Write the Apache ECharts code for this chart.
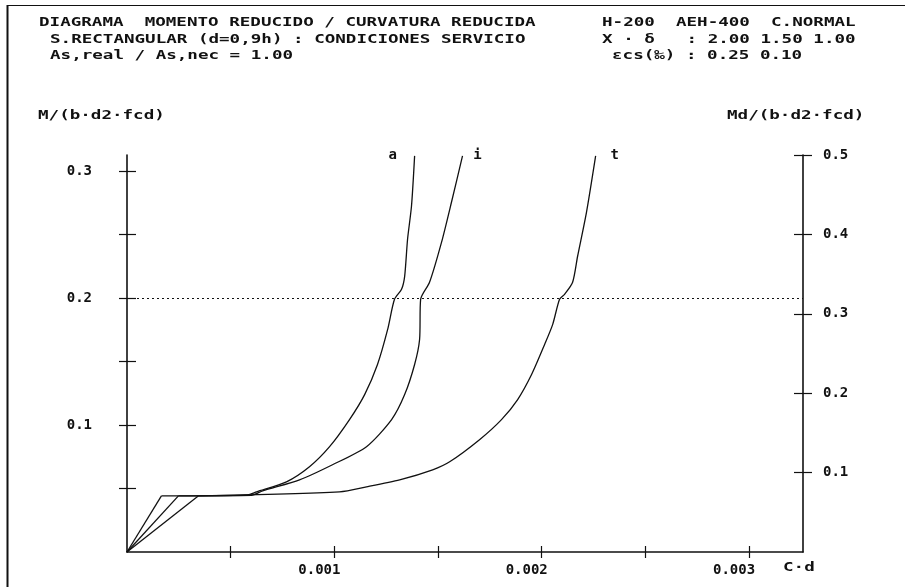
<!DOCTYPE html>
<html>
<head>
<meta charset="utf-8">
<script src="https://cdn.jsdelivr.net/npm/echarts@6/dist/echarts.min.js"></script>
<style>
  html, body { margin: 0; padding: 0; background: #fff; }
  #chart { width: 907px; height: 587px; }
</style>
</head>
<body>
<div id="chart"></div>
<script>
// Reduced curvature C·d (x) against reduced moment M/(b·d2·fcd) (y)
const curveNames = ['a', 'i', 't'];

const curveA_x = [0, 0.000166, 0.000581, 0.000625, 0.000769, 0.000880, 0.000977, 0.001073, 0.001146, 0.001208, 0.001257, 0.001290, 0.001324, 0.001339, 0.001353, 0.001372, 0.001387];
const curveA_y = [0, 0.0442, 0.0450, 0.0474, 0.0552, 0.0671, 0.0829, 0.1042, 0.1239, 0.1476, 0.1752, 0.1989, 0.2068, 0.2170, 0.2462, 0.2723, 0.3118];

const curveI_x = [0, 0.000248, 0.000600, 0.000654, 0.000832, 0.000991, 0.001155, 0.001276, 0.001339, 0.001387, 0.001411, 0.001416, 0.001459, 0.001517, 0.001565, 0.001618];
const curveI_y = [0, 0.0442, 0.0446, 0.0481, 0.0568, 0.0687, 0.0829, 0.1042, 0.1239, 0.1476, 0.1673, 0.1989, 0.2123, 0.2439, 0.2755, 0.3118];

const curveT_x = [0, 0.000345, 0.001025, 0.001155, 0.001315, 0.001474, 0.001556, 0.001700, 0.001806, 0.001884, 0.001951, 0.002014, 0.002053, 0.002086, 0.002110, 0.002149, 0.002173, 0.002216, 0.002260];
const curveT_y = [0, 0.0442, 0.0474, 0.0513, 0.0568, 0.0647, 0.0710, 0.0884, 0.1042, 0.1200, 0.1397, 0.1634, 0.1792, 0.1989, 0.2028, 0.2123, 0.2328, 0.2676, 0.3118];

// Index where each curve leaves its straight initial branch
const plateauStart = [1, 1, 1];

// Service limit line (left scale)
const serviceLevel = 0.2;

// Axis ranges and tick values
const xMax = 0.00326;
const xTicks = [0.0005, 0.001, 0.0015, 0.002, 0.0025, 0.003];
const xLabels = [0.001, 0.002, 0.003];
const mMax = 0.3125;
const mTicks = [0.05, 0.1, 0.15, 0.2, 0.25, 0.3];
const mLabels = [0.1, 0.2, 0.3];
const mdMax = 0.5;
const mdTicks = [0.1, 0.2, 0.3, 0.4, 0.5];
const mdLabels = [0.1, 0.2, 0.3, 0.4, 0.5];

// Header text
const titleLeft = [
  'DIAGRAMA  MOMENTO REDUCIDO / CURVATURA REDUCIDA',
  'S.RECTANGULAR (d=0,9h) : CONDICIONES SERVICIO',
  'As,real / As,nec = 1.00'
];
const titleRight = [
  'H-200  AEH-400  C.NORMAL',
  'X · δ   : 2.00 1.50 1.00',
  'εcs(‰) : 0.25 0.10'
];
const yNameLeft = 'M/(b·d2·fcd)';
const yNameRight = 'Md/(b·d2·fcd)';
const xName = 'C·d';

const FONT_FAMILY = '"DejaVu Sans Mono", "Liberation Mono", monospace';
const INK = '#111';

function pairs(xs, ys) { return xs.map((x, k) => [x, ys[k]]); }

function monoText(str, x, y, size, sx) {
  return {
    type: 'text', x: x, y: y, scaleX: sx, silent: true,
    style: {
      text: str, font: 'bold ' + size + 'px ' + FONT_FAMILY, fill: INK,
      align: 'left', verticalAlign: 'middle',
      textAlign: 'left', textVerticalAlign: 'middle'
    }
  };
}

const axisLineStyle = { color: INK, width: 1.6 };
const tickStyle = { color: INK, width: 1.2 };
const labelFont = { fontFamily: FONT_FAMILY, fontWeight: 'bold', fontSize: 14, color: INK };
const curveLine = { color: INK, width: 1.3 };

function valueAxis(gridIndex, min, max, extra) {
  return Object.assign({
    type: 'value', gridIndex: gridIndex, min: min, max: max,
    splitLine: { show: false }
  }, extra);
}

const chart = echarts.init(document.getElementById('chart'), null, { renderer: 'canvas' });

const labelOffsets = { a: [-22, -1], i: [15, -1], t: [19, -1] };
const curves = [pairs(curveA_x, curveA_y), pairs(curveI_x, curveI_y), pairs(curveT_x, curveT_y)];

const series = [];
curves.forEach((pts, k) => {
  const s = plateauStart[k];
  // straight elastic branch from the origin
  series.push({
    name: curveNames[k] + '-0', type: 'line', xAxisIndex: 0, yAxisIndex: 0,
    data: pts.slice(0, s + 1), showSymbol: false, smooth: false, animation: false,
    lineStyle: curveLine, silent: true
  });
  // cracked branch
  series.push({
    name: curveNames[k], type: 'line', xAxisIndex: 0, yAxisIndex: 0,
    data: pts.slice(s), showSymbol: false, smooth: 0.25, animation: false,
    lineStyle: curveLine, silent: true,
    endLabel: {
      show: true, formatter: curveNames[k], distance: 0,
      offset: labelOffsets[curveNames[k]], align: 'center', verticalAlign: 'middle',
      fontFamily: FONT_FAMILY, fontWeight: 'bold', fontSize: 14, color: INK
    },
    markLine: k === 0 ? {
      silent: true, symbol: 'none', animation: false,
      label: { show: false },
      lineStyle: { color: INK, type: [2, 3], width: 1.2 },
      data: [{ yAxis: serviceLevel }]
    } : undefined
  });
});
// empty series keeps the tick-only overlay grid alive
series.push({ type: 'line', xAxisIndex: 1, yAxisIndex: 2, data: [], silent: true });

const graphics = [];
graphics.push({ type: 'line', silent: true, shape: { x1: 7.5, y1: 5, x2: 7.5, y2: 587 }, style: { stroke: INK, lineWidth: 2 } });
graphics.push({ type: 'line', silent: true, shape: { x1: 7, y1: 5.5, x2: 905, y2: 5.5 }, style: { stroke: INK, lineWidth: 1 } });
const SX = 1.35;
graphics.push(monoText(titleLeft[0], 39, 23, 13, SX));
graphics.push(monoText(titleLeft[1], 50, 40, 13, SX));
graphics.push(monoText(titleLeft[2], 50, 56, 13, SX));
graphics.push(monoText(titleRight[0], 602, 23, 13, SX));
graphics.push(monoText(titleRight[1], 602, 40, 13, SX));
graphics.push(monoText(titleRight[2], 612, 56, 13, SX));
graphics.push(monoText(yNameLeft, 38, 116, 13, SX));
graphics.push(monoText(yNameRight, 727, 116, 13, SX));
graphics.push(monoText(xName, 783, 568, 13, SX));

const gridRect = { left: 127, right: 104, top: 155, bottom: 35, containLabel: false };

chart.setOption({
  backgroundColor: '#fff',
  animation: false,
  // grid 0: curves, axis lines, outer ticks, labels; grid 1: inner half of the crossing ticks
  grid: [Object.assign({}, gridRect), Object.assign({}, gridRect)],
  xAxis: [
    valueAxis(0, 0, xMax, {
      position: 'bottom',
      axisLine: { show: true, lineStyle: axisLineStyle },
      axisTick: { show: true, customValues: xTicks, length: 6, lineStyle: tickStyle },
      axisLabel: Object.assign({ customValues: xLabels, margin: 11, padding: [0, 30, 0, 0],
        formatter: v => v.toFixed(3) }, labelFont)
    }),
    valueAxis(1, 0, xMax, {
      position: 'bottom',
      axisLine: { show: false },
      axisTick: { show: true, inside: true, customValues: xTicks, length: 6, lineStyle: tickStyle },
      axisLabel: { show: false }
    })
  ],
  yAxis: [
    valueAxis(0, 0, mMax, {
      position: 'left',
      axisLine: { show: true, lineStyle: axisLineStyle },
      axisTick: { show: true, customValues: mTicks, length: 8, lineStyle: tickStyle },
      axisLabel: Object.assign({ customValues: mLabels, margin: 35, padding: [6, 0, 0, 0],
        formatter: v => v.toFixed(1) }, labelFont)
    }),
    valueAxis(0, 0, mdMax, {
      position: 'right',
      axisLine: { show: true, lineStyle: axisLineStyle },
      axisTick: { show: true, customValues: mdTicks, length: 9, lineStyle: tickStyle },
      axisLabel: Object.assign({ customValues: mdLabels, margin: 20,
        formatter: v => v.toFixed(1) }, labelFont)
    }),
    valueAxis(1, 0, mMax, {
      position: 'left',
      axisLine: { show: false },
      axisTick: { show: true, inside: true, customValues: mTicks, length: 9, lineStyle: tickStyle },
      axisLabel: { show: false }
    }),
    valueAxis(1, 0, mdMax, {
      position: 'right',
      axisLine: { show: false },
      axisTick: { show: true, inside: true, customValues: mdTicks, length: 9, lineStyle: tickStyle },
      axisLabel: { show: false }
    })
  ],
  series: series,
  graphic: graphics
});
</script>
</body>
</html>
